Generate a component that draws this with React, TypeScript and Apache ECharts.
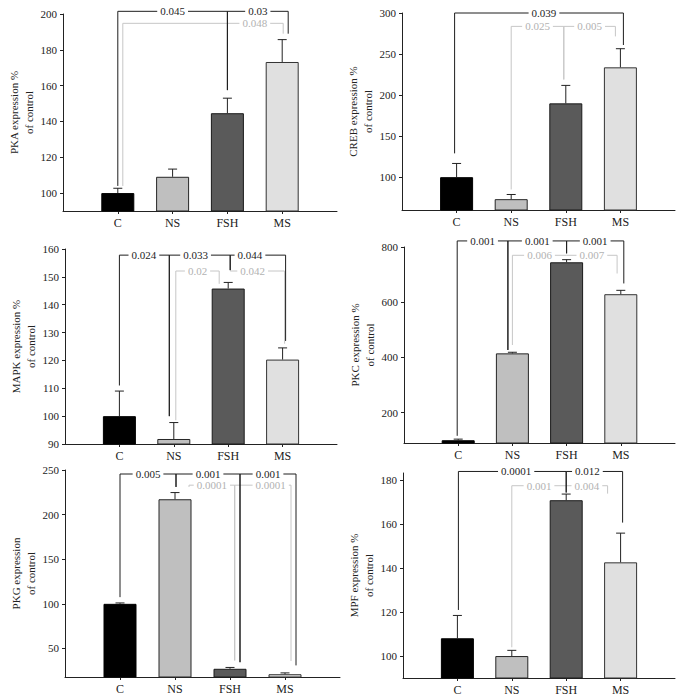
import React, { useEffect, useRef } from 'react';
import * as echarts from 'echarts';

// ---------- data ----------
const categories = ['', 'C', 'NS', 'FSH', 'MS', ''];

const pkaMeans = [100, 109.1, 144.6, 173.2];
const pkaSem = [2.7, 4.3, 8.4, 12.5];
const pkaTicks = [100, 120, 140, 160, 180, 200];

const crebMeans = [100, 73.2, 189.9, 233.8];
const crebSem = [16.7, 5.7, 21.9, 22.7];
const crebTicks = [100, 150, 200, 250, 300];

const mapkMeans = [100, 91.8, 145.8, 120.3];
const mapkSem = [9, 5.9, 2.2, 4.2];
const mapkTicks = [90, 100, 110, 120, 130, 140, 150, 160];

const pkcMeans = [100, 414.7, 744.6, 629];
const pkcSem = [4, 4, 9.5, 14];
const pkcTicks = [200, 400, 600, 800];

const pkgMeans = [100, 217.2, 27.2, 21.1];
const pkgSem = [1, 7.5, 1.5, 1.5];
const pkgTicks = [50, 100, 150, 200, 250];

const mpfMeans = [108.1, 100, 171, 142.7];
const mpfSem = [10.4, 2.6, 2.8, 13.3];
const mpfTicks = [100, 120, 140, 160, 180];

type Bracket = {
  from: number; to: number; level: number; fromEnd: number; toEnd: number;
  label: string; tone: 'dark' | 'light'; fromShift?: number; toShift?: number; labelAt?: number;
};

const pkaBrackets: Bracket[] = [
  { from: 1, to: 4, level: 194.8, fromEnd: 104, toEnd: 189, label: '0.048', tone: 'light', fromShift: 5, toShift: 1, labelAt: 3.5 },
  { from: 1, to: 3, level: 201.5, fromEnd: 104, toEnd: 157.5, label: '0.045', tone: 'dark' },
  { from: 3, to: 4, level: 201.5, fromEnd: 157.5, toEnd: 189, label: '0.03', tone: 'dark', toShift: 6 },
];
const crebBrackets: Bracket[] = [
  { from: 2, to: 3, level: 283.7, fromEnd: 85, toEnd: 219, label: '0.025', tone: 'light', toShift: -2 },
  { from: 3, to: 4, level: 283.7, fromEnd: 219, toEnd: 271.5, label: '0.005', tone: 'light', fromShift: -2, toShift: -5 },
  { from: 1, to: 4, level: 300, fromEnd: 129, toEnd: 261, label: '0.039', tone: 'dark', fromShift: -2, toShift: 3, labelAt: 2.6 },
];
const mapkBrackets: Bracket[] = [
  { from: 2, to: 3, level: 152.1, fromEnd: 98.5, toEnd: 147.5, label: '0.02', tone: 'light', fromShift: 2, toShift: -9 },
  { from: 3, to: 4, level: 152.1, fromEnd: 152.1, toEnd: 126, label: '0.042', tone: 'light', fromShift: 2, toShift: 2, labelAt: 3.45 },
  { from: 1, to: 2, level: 157.8, fromEnd: 111, toEnd: 100, label: '0.024', tone: 'dark', toShift: -4.5, labelAt: 1.45 },
  { from: 2, to: 3, level: 157.8, fromEnd: 100, toEnd: 152.4, label: '0.033', tone: 'dark', fromShift: -4.5, toShift: 2, labelAt: 2.4 },
  { from: 3, to: 4, level: 157.8, fromEnd: 152.4, toEnd: 127, label: '0.044', tone: 'dark', fromShift: 2, toShift: 3, labelAt: 3.4 },
];
const pkcBrackets: Bracket[] = [
  { from: 2, to: 3, level: 770, fromEnd: 445, toEnd: 770, label: '0.006', tone: 'light' },
  { from: 3, to: 4, level: 770, fromEnd: 770, toEnd: 704, label: '0.007', tone: 'light', toShift: -3.7 },
  { from: 1, to: 2, level: 822, fromEnd: 116, toEnd: 427, label: '0.001', tone: 'dark', fromShift: -1, toShift: -4.5 },
  { from: 2, to: 3, level: 822, fromEnd: 427, toEnd: 777, label: '0.001', tone: 'dark', fromShift: -4.5 },
  { from: 3, to: 4, level: 822, fromEnd: 777, toEnd: 668, label: '0.001', tone: 'dark', toShift: 3 },
];
const pkgBrackets: Bracket[] = [
  { from: 2, to: 3, level: 233, fromEnd: 231, toEnd: 36.5, label: '0.0001', tone: 'light', fromShift: 14, toShift: 4.7 },
  { from: 3, to: 4, level: 233, fromEnd: 36.5, toEnd: 36, label: '0.0001', tone: 'light', fromShift: 4.7, toShift: 6, labelAt: 3.74 },
  { from: 1, to: 2, level: 245.5, fromEnd: 107.5, toEnd: 231, label: '0.005', tone: 'dark', toShift: 1 },
  { from: 2, to: 3, level: 245.5, fromEnd: 231, toEnd: 34.6, label: '0.001', tone: 'dark', fromShift: 1, toShift: 10 },
  { from: 3, to: 4, level: 245.5, fromEnd: 34.6, toEnd: 31, label: '0.001', tone: 'dark', fromShift: 10, toShift: 11 },
];
const mpfBrackets: Bracket[] = [
  { from: 2, to: 3, level: 177.6, fromEnd: 104, toEnd: 177.6, label: '0.001', tone: 'light' },
  { from: 3, to: 4, level: 177.6, fromEnd: 177.6, toEnd: 174, label: '0.004', tone: 'light', toShift: -13 },
  { from: 1, to: 3, level: 184.1, fromEnd: 121, toEnd: 174.5, label: '0.0001', tone: 'dark', fromShift: 1, labelAt: 2.08 },
  { from: 3, to: 4, level: 184.1, fromEnd: 174.5, toEnd: 160.8, label: '0.012', tone: 'dark', toShift: 2, labelAt: 3.39 },
];

// ---------- layout / style ----------
const FONT = '"Liberation Serif", "Times New Roman", serif';
const INK = '#222222';
const DARK = '#1e1e1e';
const LIGHT_LINE = '#c6c6c6';
const LIGHT_TEXT = '#b2b2b2';

const barStyles = [
  { color: '#000000', borderColor: '#000000', borderWidth: 1 },
  { color: '#bfbfbf', borderColor: '#262626', borderWidth: 1 },
  { color: '#5a5a5a', borderColor: '#1a1a1a', borderWidth: 1 },
  { color: '#e0e0e0', borderColor: '#333333', borderWidth: 1 },
];

const panels = [
  { name: 'PKA expression %\nof control', means: pkaMeans, sem: pkaSem, ticks: pkaTicks, min: 90, max: 200, brackets: pkaBrackets, box: { left: 63, top: 14, width: 274, height: 197 } },
  { name: 'CREB expression %\nof control', means: crebMeans, sem: crebSem, ticks: crebTicks, min: 60, max: 300, brackets: crebBrackets, box: { left: 402, top: 13, width: 273, height: 197 } },
  { name: 'MAPK expression %\nof control', means: mapkMeans, sem: mapkSem, ticks: mapkTicks, min: 90, max: 160, brackets: mapkBrackets, box: { left: 65, top: 249, width: 272, height: 195 } },
  { name: 'PKC expression %\nof control', means: pkcMeans, sem: pkcSem, ticks: pkcTicks, min: 90, max: 800, brackets: pkcBrackets, box: { left: 404, top: 247, width: 271, height: 196 } },
  { name: 'PKG expression\nof control', means: pkgMeans, sem: pkgSem, ticks: pkgTicks, min: 18, max: 250, brackets: pkgBrackets, box: { left: 65, top: 470, width: 275, height: 207 } },
  { name: 'MPF expression %\nof control', means: mpfMeans, sem: mpfSem, ticks: mpfTicks, min: 90, max: 183.4, brackets: mpfBrackets, box: { left: 403, top: 473, width: 272, height: 205 } },
];

function buildOption() {
  const grid: any[] = [];
  const xAxis: any[] = [];
  const yAxis: any[] = [];
  const series: any[] = [];

  panels.forEach((p, k) => {
    grid.push({ ...p.box, containLabel: false });
    xAxis.push({
      type: 'category',
      gridIndex: k,
      data: categories,
      boundaryGap: false,
      axisLine: { lineStyle: { color: INK, width: 1 } },
      axisTick: { length: 3, lineStyle: { color: INK }, interval: (i: number) => i >= 1 && i <= 4 },
      axisLabel: { interval: 0, color: INK, fontFamily: FONT, fontSize: 12, margin: 6 },
      splitLine: { show: false },
    });
    yAxis.push({
      type: 'value',
      gridIndex: k,
      min: p.min,
      max: p.max,
      name: p.name,
      nameLocation: 'middle',
      nameRotate: 90,
      nameGap: 25,
      nameTextStyle: { color: INK, fontFamily: FONT, fontSize: 11, lineHeight: 15 },
      axisLine: { show: true, lineStyle: { color: INK, width: 1 } },
      axisTick: { show: true, length: 3, lineStyle: { color: INK }, customValues: p.ticks },
      axisLabel: { color: INK, fontFamily: FONT, fontSize: 11, margin: 6, customValues: p.ticks },
      splitLine: { show: false },
    });

    series.push({
      type: 'bar',
      xAxisIndex: k,
      yAxisIndex: k,
      barWidth: 33,
      silent: true,
      data: ['-', ...p.means.map((v, i) => ({ value: v, itemStyle: barStyles[i] })), '-'],
    });

    series.push({
      type: 'custom',
      xAxisIndex: k,
      yAxisIndex: k,
      silent: true,
      z: 3,
      data: p.means.map((v, i) => [i + 1, v, p.sem[i]]),
      renderItem: (_params: any, api: any) => {
        const x = api.value(0);
        const m = api.value(1);
        const s = api.value(2);
        const a = api.coord([x, m]);
        const b = api.coord([x, m + s]);
        const style = { stroke: INK, lineWidth: 1 };
        return {
          type: 'group',
          children: [
            { type: 'line', shape: { x1: a[0], y1: a[1], x2: b[0], y2: b[1] }, style },
            { type: 'line', shape: { x1: b[0] - 4.5, y1: b[1], x2: b[0] + 4.5, y2: b[1] }, style },
          ],
        };
      },
    });

    const ordered = [...p.brackets.filter((b) => b.tone === 'light'), ...p.brackets.filter((b) => b.tone === 'dark')];
    series.push({
      type: 'custom',
      xAxisIndex: k,
      yAxisIndex: k,
      silent: true,
      clip: false,
      z: 4,
      data: ordered.map((b) => [b.from, b.level]),
      renderItem: (params: any, api: any) => {
        const b = ordered[params.dataIndex];
        const c0 = api.coord([0, b.level]);
        const c1 = api.coord([1, b.level]);
        const step = c1[0] - c0[0];
        const catX = (v: number) => c0[0] + v * step;
        const yL = c0[1];
        const x1 = catX(b.from) + (b.fromShift || 0);
        const x2 = catX(b.to) + (b.toShift || 0);
        const y1 = api.coord([b.from, b.fromEnd])[1];
        const y2 = api.coord([b.to, b.toEnd])[1];
        const lx = b.labelAt != null ? catX(b.labelAt) : (x1 + x2) / 2;
        const dark = b.tone === 'dark';
        return {
          type: 'group',
          children: [
            {
              type: 'polyline',
              shape: { points: [[x1, y1], [x1, yL], [x2, yL], [x2, y2]] },
              style: { stroke: dark ? DARK : LIGHT_LINE, lineWidth: 1, fill: null },
            },
            {
              type: 'text',
              x: lx,
              y: yL,
              z2: 10,
              style: {
                text: b.label,
                fill: dark ? DARK : LIGHT_TEXT,
                font: `11px ${FONT}`,
                lineHeight: 10,
                align: 'center',
                verticalAlign: 'middle',
                backgroundColor: '#ffffff',
                padding: [0, 3, 0, 3],
              },
            },
          ],
        };
      },
    });
  });

  return {
    animation: false,
    backgroundColor: '#ffffff',
    grid,
    xAxis,
    yAxis,
    series,
  };
}

export default function App() {
  const ref = useRef<HTMLDivElement>(null);
  useEffect(() => {
    if (!ref.current) return;
    const chart = echarts.init(ref.current, undefined, { renderer: 'svg' });
    chart.setOption(buildOption() as any);
    return () => chart.dispose();
  }, []);
  return (
    <div
      ref={ref}
      style={{ position: 'absolute', left: 0, top: 0, width: 684, height: 700, background: '#fff' }}
    />
  );
}
